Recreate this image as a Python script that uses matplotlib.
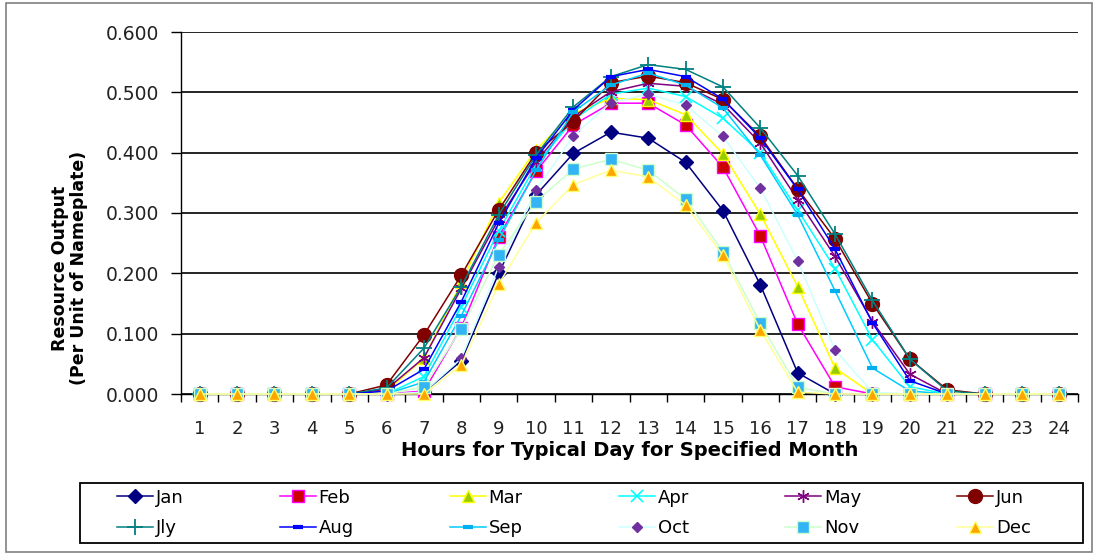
import matplotlib
matplotlib.use("Agg")
import matplotlib.pyplot as plt
from matplotlib.patches import Rectangle
from matplotlib.ticker import FixedLocator, FormatStrFormatter

plt.rcParams['font.family'] = ['DejaVu Sans']

hours = list(range(1, 25))

jan = [0, 0, 0, 0, 0, 0, 0.003, 0.055, 0.200, 0.330, 0.399, 0.434, 0.424, 0.384, 0.304, 0.181, 0.035, 0, 0, 0, 0, 0, 0, 0]
feb = [0, 0, 0, 0, 0, 0, 0.005, 0.110, 0.261, 0.369, 0.446, 0.482, 0.482, 0.446, 0.376, 0.262, 0.116, 0.012, 0, 0, 0, 0, 0, 0]
mar = [0, 0, 0, 0, 0, 0.005, 0.059, 0.185, 0.317, 0.405, 0.465, 0.490, 0.488, 0.463, 0.398, 0.298, 0.178, 0.043, 0, 0, 0, 0, 0, 0]
apr = [0, 0, 0, 0, 0, 0, 0.029, 0.145, 0.270, 0.380, 0.455, 0.497, 0.507, 0.493, 0.457, 0.400, 0.305, 0.208, 0.090, 0.012, 0, 0, 0, 0]
may = [0, 0, 0, 0, 0, 0.008, 0.060, 0.175, 0.290, 0.385, 0.460, 0.501, 0.515, 0.510, 0.480, 0.416, 0.322, 0.228, 0.120, 0.033, 0, 0, 0, 0]
jun = [0, 0, 0, 0, 0, 0.015, 0.098, 0.197, 0.305, 0.400, 0.452, 0.516, 0.527, 0.516, 0.488, 0.427, 0.340, 0.257, 0.150, 0.058, 0.007, 0, 0, 0]
jly = [0, 0, 0, 0, 0, 0.010, 0.076, 0.178, 0.297, 0.396, 0.476, 0.526, 0.546, 0.538, 0.509, 0.441, 0.362, 0.265, 0.155, 0.058, 0.005, 0, 0, 0]
aug = [0, 0, 0, 0, 0, 0.005, 0.041, 0.153, 0.283, 0.391, 0.471, 0.526, 0.538, 0.526, 0.489, 0.424, 0.339, 0.240, 0.118, 0.022, 0, 0, 0, 0]
sep = [0, 0, 0, 0, 0, 0, 0.020, 0.130, 0.255, 0.371, 0.468, 0.512, 0.532, 0.512, 0.474, 0.396, 0.297, 0.171, 0.043, 0.005, 0, 0, 0, 0]
oct_ = [0, 0, 0, 0, 0, 0, 0.003, 0.059, 0.211, 0.338, 0.428, 0.483, 0.497, 0.479, 0.427, 0.341, 0.221, 0.073, 0.003, 0, 0, 0, 0, 0]
nov = [0, 0, 0, 0, 0, 0, 0.012, 0.108, 0.231, 0.319, 0.373, 0.389, 0.371, 0.323, 0.236, 0.117, 0.011, 0, 0, 0, 0, 0, 0, 0]
dec = [0, 0, 0, 0, 0, 0, 0, 0.048, 0.182, 0.284, 0.347, 0.371, 0.360, 0.313, 0.230, 0.106, 0.003, 0, 0, 0, 0, 0, 0, 0]

series = [
    ("Jan", jan, dict(color="#000080", marker="D", ms=7, mfc="#000080", mec="#000080")),
    ("Feb", feb, dict(color="#FF00FF", marker="s", ms=8.5, mfc="#CC0000", mec="#FF00FF")),
    ("Mar", mar, dict(color="#FFFF00", marker="^", ms=9, mfc="#99CC00", mec="#FFFF00")),
    ("Apr", apr, dict(color="#00FFFF", marker="x", ms=8, mfc="#00FFFF", mec="#00FFFF", mew=1.2)),
    ("May", may, dict(color="#800080", marker=(6, 2, 0), ms=9, mfc="#800080", mec="#800080", mew=1.0)),
    ("Jun", jun, dict(color="#800000", marker="o", ms=10, mfc="#800000", mec="#800000")),
    ("Jly", jly, dict(color="#008080", marker="+", ms=11, mfc="#008080", mec="#008080", mew=1.3)),
    ("Aug", aug, dict(color="#0000FF", marker="_", ms=7, mfc="#0000FF", mec="#0000FF", mew=3)),
    ("Sep", sep, dict(color="#00CCFF", marker="_", ms=7, mfc="#00B0F0", mec="#00B0F0", mew=3)),
    ("Oct", oct_, dict(color="#CCFFFF", marker="D", ms=5.5, mfc="#7030A0", mec="#7030A0")),
    ("Nov", nov, dict(color="#CCFFCC", marker="s", ms=8.5, mfc="#33B5F5", mec="#CCFFCC")),
    ("Dec", dec, dict(color="#FFFF99", marker="^", ms=8.5, mfc="#FFA500", mec="#FFFF66")),
]

fig = plt.figure(figsize=(10.95, 5.54), dpi=100)
ax = fig.add_axes([181 / 1095, 1 - 394 / 554, (1078 - 181) / 1095, (394 - 32) / 554])

lines = []
for i, (name, vals, st) in enumerate(series):
    ln, = ax.plot(hours, vals, label=name, lw=1.1, zorder=3 + i, clip_on=False, **st)
    lines.append(ln)

ax.set_xlim(0.5, 24.5)
ax.set_ylim(0, 0.6)
ax.set_yticks([0, 0.1, 0.2, 0.3, 0.4, 0.5, 0.6])
ax.yaxis.set_major_formatter(FormatStrFormatter('%.3f'))
ax.set_xticks(hours)
ax.xaxis.set_minor_locator(FixedLocator([h + 0.5 for h in range(0, 25)]))
ax.tick_params(axis='x', which='major', length=0, pad=19, labelsize=13)
ax.tick_params(axis='x', which='minor', length=6, width=1, direction='out', color='black')
ax.tick_params(axis='y', which='major', length=7, width=1, direction='out', labelsize=13.5, pad=9)
for lbl in ax.get_yticklabels() + ax.get_xticklabels():
    lbl.set_color('#222222')

ax.grid(axis='y', color='black', lw=1.2, zorder=1)
ax.set_axisbelow(True)
for s in ['top', 'right']:
    ax.spines[s].set_visible(False)
ax.spines['left'].set_linewidth(1.0)
ax.spines['bottom'].set_linewidth(1.0)

ax.set_xlabel("Hours for Typical Day for Specified Month", fontsize=14, fontweight='bold', labelpad=2)
ax.set_ylabel("Resource Output\n(Per Unit of Nameplate)", fontsize=12.5, fontweight='bold', linespacing=1.05)
ax.yaxis.set_label_coords((88 - 181) / 897, (394 - 268) / 362)

# legend ordered row-wise (Jan..Jun on first row)
order = [0, 6, 1, 7, 2, 8, 3, 9, 4, 10, 5, 11]
leg = fig.legend([lines[k] for k in order], [series[k][0] for k in order],
                 loc='center left', bbox_to_anchor=(108 / 1095, 1 - 513 / 554, (1040 - 108) / 1095, 0.0),
                 mode='expand', ncol=6, fontsize=13, frameon=False,
                 handlelength=2.0, handletextpad=0.15, borderpad=0.0, labelspacing=0.7,
                 columnspacing=1.0)

fig.patches.append(Rectangle((80 / 1095, 1 - 543 / 554), (1083 - 80) / 1095, 60 / 554, transform=fig.transFigure,
                             fill=False, edgecolor='black', lw=1.3))
fig.patches.append(Rectangle((6 / 1095, 2 / 554), 1086 / 1095, 549 / 554, transform=fig.transFigure,
                             fill=False, edgecolor='#808080', lw=1.2))

fig.savefig("out.png", dpi=100)
